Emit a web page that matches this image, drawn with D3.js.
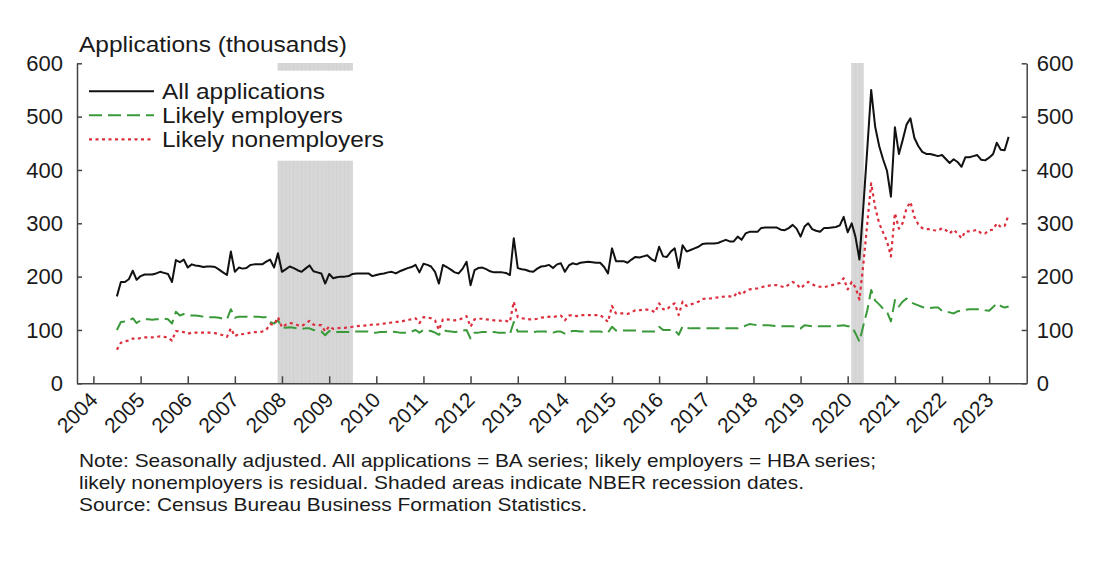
<!DOCTYPE html>
<html>
<head>
<meta charset="utf-8">
<script src="https://cdn.jsdelivr.net/npm/d3@7"></script>
<style>
  body { margin: 0; background: #fff; }
  text { font-family: "Liberation Sans", Arial, sans-serif; fill: #1a1a1a; }
</style>
</head>
<body>
<div id="chart"></div>
<script>
// Monthly series, July 2004 - June 2023 (thousands)
const firstMonth = new Date(2004, 6, 1);
const lastMonth = new Date(2023, 5, 1);

const allApplications = [
  163, 190, 190, 195, 211, 194,
  201, 204, 204, 204, 206, 209, 207, 205, 190, 231, 227, 232,
  217, 223, 221, 220, 218, 219, 219, 218, 213, 208, 203, 247,
  209, 217, 215, 216, 222, 223, 223, 223, 228, 232, 217, 244,
  209, 214, 219, 216, 212, 209, 215, 221, 210, 208, 206, 187,
  205, 197, 199, 200, 200, 201, 205, 206, 206, 206, 206, 201,
  203, 205, 206, 208, 209, 206, 210, 213, 216, 218, 222, 208,
  224, 222, 219, 209, 187, 222, 218, 213, 208, 206, 215, 228,
  184, 212, 216, 217, 214, 210, 208, 208, 208, 207, 203, 272,
  216, 214, 213, 210, 209, 215, 219, 220, 222, 216, 223, 225,
  209, 221, 225, 223, 226, 227, 228, 227, 226, 226, 218, 206,
  253, 229, 229, 229, 226, 232, 237, 236, 238, 240, 233, 229,
  256, 238, 237, 247, 253, 216, 259, 247, 250, 253, 256, 261,
  262, 262, 262, 263, 266, 269, 266, 266, 275, 269, 281, 284,
  284, 284, 291, 292, 292, 292, 292, 288, 287, 291, 297, 290,
  275, 294, 300, 289, 286, 284, 291, 291, 292, 293, 296, 312,
  283, 300, 275, 232, 330, 440, 550, 481, 445, 420, 398, 350,
  480, 430, 455, 485, 497, 460, 445, 434, 430, 430, 428, 426,
  428, 420, 413, 420, 415, 406, 424, 424, 426, 428, 419, 418,
  423, 430, 451, 438, 437, 462
];

const likelyEmployers = [
  100, 115, 116, 117, 122, 113,
  118, 120, 120, 119, 120, 120, 121, 120, 112, 134, 127, 130,
  128, 127, 127, 126, 125, 124, 124, 124, 123, 121, 120, 139,
  123, 125, 125, 125, 126, 125, 125, 124, 124, 115, 112, 118,
  105, 104, 105, 104, 103, 102, 103, 103, 100, 99, 97, 90,
  98, 95, 96, 96, 96, 96, 97, 97, 97, 97, 97, 95,
  95, 96, 96, 97, 97, 96, 95, 95, 95, 97, 100, 95,
  100, 99, 98, 95, 91, 100, 98, 97, 96, 97, 99, 100,
  84, 95, 95, 96, 96, 96, 96, 95, 95, 95, 92, 115,
  97, 97, 97, 97, 96, 97, 97, 97, 96, 95, 97, 97,
  93, 96, 98, 98, 97, 97, 97, 97, 97, 97, 96, 95,
  106, 99, 99, 99, 99, 99, 99, 98, 97, 97, 97, 97,
  106, 100, 100, 100, 100, 91, 107, 104, 103, 103, 103, 103,
  103, 103, 103, 103, 103, 103, 103, 103, 103, 104, 108, 111,
  110, 109, 109, 109, 109, 108, 107, 107, 107, 107, 107, 106,
  103, 109, 108, 107, 107, 107, 107, 107, 107, 108, 108, 109,
  107, 107, 94, 78, 108, 137, 175, 155, 148, 140, 134, 116,
  156, 144, 153, 159, 152, 149, 146, 143, 141, 141, 142, 142,
  136, 134, 133, 131, 135, 136, 138, 139, 139, 139, 139, 137,
  136, 143, 150, 145, 142, 144
];

const likelyNonemployers = [
  63, 76, 79, 80, 84, 83,
  85, 86, 86, 86, 87, 88, 87, 86, 80, 98, 97, 96,
  93, 95, 95, 95, 95, 95, 95, 94, 92, 90, 87, 103,
  88, 93, 92, 93, 95, 96, 96, 97, 100, 111, 110, 124,
  105, 110, 113, 112, 109, 107, 112, 117, 110, 109, 109, 97,
  107, 102, 103, 104, 104, 105, 106, 107, 108, 108, 109, 110,
  110, 111, 112, 113, 114, 115, 115, 117, 119, 120, 122, 113,
  124, 123, 122, 118, 100, 120, 120, 119, 118, 119, 122, 126,
  106, 120, 121, 121, 120, 119, 118, 118, 117, 117, 115, 153,
  124, 122, 121, 120, 120, 121, 123, 124, 125, 124, 126, 127,
  118, 127, 128, 126, 128, 128, 128, 128, 128, 128, 122, 115,
  145, 131, 131, 131, 130, 133, 137, 137, 138, 138, 137, 133,
  150, 139, 138, 146, 150, 128, 153, 145, 148, 150, 153, 158,
  159, 159, 160, 161, 162, 163, 163, 162, 172, 166, 173, 176,
  177, 178, 180, 182, 183, 184, 184, 182, 180, 185, 190, 186,
  178, 185, 190, 186, 182, 181, 180, 182, 184, 186, 188, 197,
  176, 190, 180, 157, 222, 300, 375, 330, 300, 283, 266, 238,
  319, 290, 300, 328, 340, 312, 298, 291, 289, 289, 287, 286,
  291, 287, 281, 288, 281, 272, 285, 285, 286, 288, 281, 281,
  287, 288, 300, 293, 295, 316
];

// NBER recessions
const recessions = [
  {start: new Date(2007, 11, 1), end: new Date(2009, 5, 30)},
  {start: new Date(2020, 1, 1), end: new Date(2020, 3, 30)}
];

const yTicks = [0, 100, 200, 300, 400, 500, 600];
const xTickYears = d3.range(2004, 2024);

const seriesInfo = [
  {name: "All applications", values: allApplications, color: "#111111", dash: null, width: 2, labelLen: 163},
  {name: "Likely employers", values: likelyEmployers, color: "#3a9a3a", dash: "13,6", width: 2, labelLen: 181},
  {name: "Likely nonemployers", values: likelyNonemployers, color: "#dc2f3d", dash: "3,3.5", width: 2.2, labelLen: 222}
];

const noteLines = [
  "Note: Seasonally adjusted. All applications = BA series; likely employers = HBA series;",
  "likely nonemployers is residual. Shaded areas indicate NBER recession dates.",
  "Source: Census Bureau Business Formation Statistics."
];
const noteLengths = [797, 725, 508];

// Layout
const W = 1100, H = 569;
const margin = {top: 63.3, right: 73.3, bottom: 185.7, left: 77};
const width = W - margin.left - margin.right;
const height = H - margin.top - margin.bottom;

const months = d3.timeMonth.range(firstMonth, d3.timeMonth.offset(lastMonth, 1));

const svg = d3.select("#chart")
  .append("svg")
  .attr("width", W)
  .attr("height", H);

const g = svg.append("g")
  .attr("transform", `translate(${margin.left},${margin.top})`);

// Scales
const x = d3.scaleTime()
  .domain([new Date(2003, 7, 27), new Date(2023, 9, 19)])
  .range([0, width]);

const y = d3.scaleLinear()
  .domain([0, 600])
  .range([height, 0]);

// Recession shading, month by month for the light stripe texture
recessions.forEach(r => {
  const cells = d3.timeMonth.range(r.start, r.end);
  g.append("g")
    .selectAll("rect")
    .data(cells)
    .join("rect")
    .attr("x", d => x(d))
    .attr("y", y(600))
    .attr("width", d => x(d3.timeMonth.offset(d, 1)) - x(d))
    .attr("height", y(0) - y(600))
    .attr("fill", "#d7d7d7")
    .attr("stroke", "#cccccc")
    .attr("stroke-width", 0.5);
});

// Legend background hides the shading behind it
g.append("rect")
  .attr("x", 2)
  .attr("y", 7.4)
  .attr("width", 320)
  .attr("height", 90)
  .attr("fill", "#fff");

// Lines
seriesInfo.forEach(s => {
  const line = d3.line()
    .x((d, i) => x(months[i]))
    .y(d => y(d));
  g.append("path")
    .datum(s.values)
    .attr("fill", "none")
    .attr("stroke", s.color)
    .attr("stroke-width", s.width)
    .attr("stroke-linejoin", "round")
    .attr("stroke-dasharray", s.dash)
    .attr("d", line);
});

// Axes
const axisColor = "#444";

const xAxis = g.append("g")
  .attr("transform", `translate(0,${height})`)
  .call(d3.axisBottom(x)
    .tickValues(xTickYears.map(yr => new Date(yr, 0, 1)))
    .tickFormat(d3.timeFormat("%Y"))
    .tickSizeInner(-7)
    .tickSizeOuter(0));

xAxis.selectAll("text")
  .attr("font-size", "21px")
  .attr("text-anchor", "end")
  .attr("dy", null)
  .attr("y", null)
  .attr("transform", "translate(5,18) rotate(-45)");

g.append("g")
  .call(d3.axisLeft(y)
    .tickValues(yTicks)
    .tickSizeInner(-5)
    .tickSizeOuter(0)
    .tickPadding(14))
  .selectAll("text")
  .attr("font-size", "22px");

g.append("g")
  .attr("transform", `translate(${width},0)`)
  .call(d3.axisRight(y)
    .tickValues(yTicks)
    .tickSizeInner(-5)
    .tickSizeOuter(0)
    .tickPadding(10))
  .selectAll("text")
  .attr("font-size", "22px");

g.selectAll(".domain, .tick line")
  .attr("stroke", axisColor)
  .attr("stroke-width", 1.5);
g.selectAll(".tick text").attr("fill", "#1a1a1a");

// Axis title
svg.append("text")
  .attr("x", 79)
  .attr("y", 52)
  .attr("font-size", "22px")
  .attr("textLength", 268)
  .attr("lengthAdjust", "spacingAndGlyphs")
  .text("Applications (thousands)");

// Legend
const legend = g.append("g").attr("transform", "translate(12,28)");
seriesInfo.forEach((s, i) => {
  const row = legend.append("g").attr("transform", `translate(0,${i * 24})`);
  row.append("line")
    .attr("x1", 0).attr("x2", 65)
    .attr("y1", 0).attr("y2", 0)
    .attr("stroke", s.color)
    .attr("stroke-width", s.width)
    .attr("stroke-dasharray", s.dash);
  row.append("text")
    .attr("x", 73)
    .attr("y", 8)
    .attr("font-size", "22px")
    .attr("textLength", s.labelLen)
    .attr("lengthAdjust", "spacingAndGlyphs")
    .text(s.name);
});

// Notes
svg.append("g")
  .selectAll("text")
  .data(noteLines)
  .join("text")
  .attr("x", 79)
  .attr("y", (d, i) => 467 + i * 22)
  .attr("font-size", "19px")
  .attr("textLength", (d, i) => noteLengths[i])
  .attr("lengthAdjust", "spacingAndGlyphs")
  .text(d => d);
</script>
</body>
</html>
